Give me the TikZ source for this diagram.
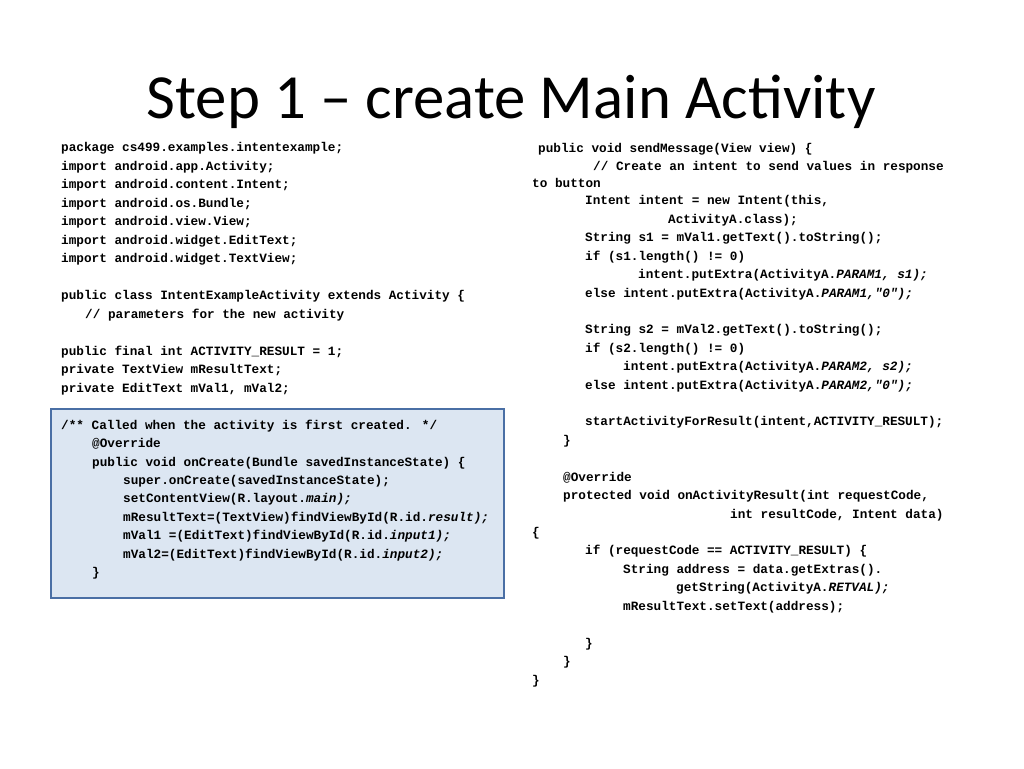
\documentclass[tikz,border=0pt]{standalone}
\usepackage{fontspec}
\setmainfont{Carlito}
\newfontfamily\codefont{Liberation Mono}[BoldFont={Liberation Mono Bold},BoldItalicFont={Liberation Mono Bold Italic}]
\definecolor{boxfill}{HTML}{DCE6F2}
\definecolor{boxline}{HTML}{4A6FA5}
\newcommand{\cl}[3]{\node[code] at (#1pt,-#2pt) {#3};}
\newcommand{\itc}[1]{\textit{#1}}
\begin{document}
\begin{tikzpicture}[x=1pt,y=1pt,
  code/.style={anchor=west,inner sep=0pt,font=\codefont\bfseries\fontsize{12.7}{14}\selectfont}]
\useasboundingbox (0,0) rectangle (1024,-768);
\node[anchor=base,inner sep=0,font=\fontsize{62.8}{70}\selectfont] (title) at (511,-118) {Step 1 – create Main Activity};
\draw[boxline,fill=boxfill,line width=2pt] (51,-409) rectangle (504,-598);
\cl{61}{148}{package cs499.examples.intentexample;}
\cl{61}{167}{import android.app.Activity;}
\cl{61}{185}{import android.content.Intent;}
\cl{61}{204}{import android.os.Bundle;}
\cl{61}{222}{import android.view.View;}
\cl{61}{241}{import android.widget.EditText;}
\cl{61}{259}{import android.widget.TextView;}
\cl{61}{296}{public class IntentExampleActivity extends Activity \{}
\cl{85}{315}{// parameters for the new activity}
\cl{61}{352}{public final int ACTIVITY\_RESULT = 1;}
\cl{61}{370}{private TextView mResultText;}
\cl{61}{389}{private EditText mVal1, mVal2;}
\cl{61}{426}{/** Called when the activity is first created. */}
\cl{92}{444}{@Override}
\cl{92}{463}{public void onCreate(Bundle savedInstanceState) \{}
\cl{123}{481}{super.onCreate(savedInstanceState);}
\cl{123}{499}{setContentView(R.layout.\itc{main);}}
\cl{123}{518}{mResultText=(TextView)findViewById(R.id.\itc{result);}}
\cl{123}{536}{mVal1 =(EditText)findViewById(R.id.\itc{input1);}}
\cl{123}{555}{mVal2=(EditText)findViewById(R.id.\itc{input2);}}
\cl{92}{573}{\}}
\cl{538}{149}{public void sendMessage(View view) \{}
\cl{593}{167}{// Create an intent to send values in response}
\cl{532}{183}{to button}
\cl{585}{201}{Intent intent = new Intent(this,}
\cl{668}{220}{ActivityA.class);}
\cl{585}{238}{String s1 = mVal1.getText().toString();}
\cl{585}{257}{if (s1.length() != 0)}
\cl{638}{275}{intent.putExtra(ActivityA.\itc{PARAM1, s1);}}
\cl{585}{294}{else intent.putExtra(ActivityA.\itc{PARAM1,"0");}}
\cl{585}{330}{String s2 = mVal2.getText().toString();}
\cl{585}{349}{if (s2.length() != 0)}
\cl{623}{367}{intent.putExtra(ActivityA.\itc{PARAM2, s2);}}
\cl{585}{386}{else intent.putExtra(ActivityA.\itc{PARAM2,"0");}}
\cl{585}{422}{startActivityForResult(intent,ACTIVITY\_RESULT);}
\cl{563}{441}{\}}
\cl{563}{478}{@Override}
\cl{563}{496}{protected void onActivityResult(int requestCode,}
\cl{730}{515}{int resultCode, Intent data)}
\cl{532}{533}{\{}
\cl{585}{551}{if (requestCode == ACTIVITY\_RESULT) \{}
\cl{623}{570}{String address = data.getExtras().}
\cl{676}{588}{getString(ActivityA.\itc{RETVAL);}}
\cl{623}{607}{mResultText.setText(address);}
\cl{585}{644}{\}}
\cl{563}{662}{\}}
\cl{532}{681}{\}}
\end{tikzpicture}
\end{document}
